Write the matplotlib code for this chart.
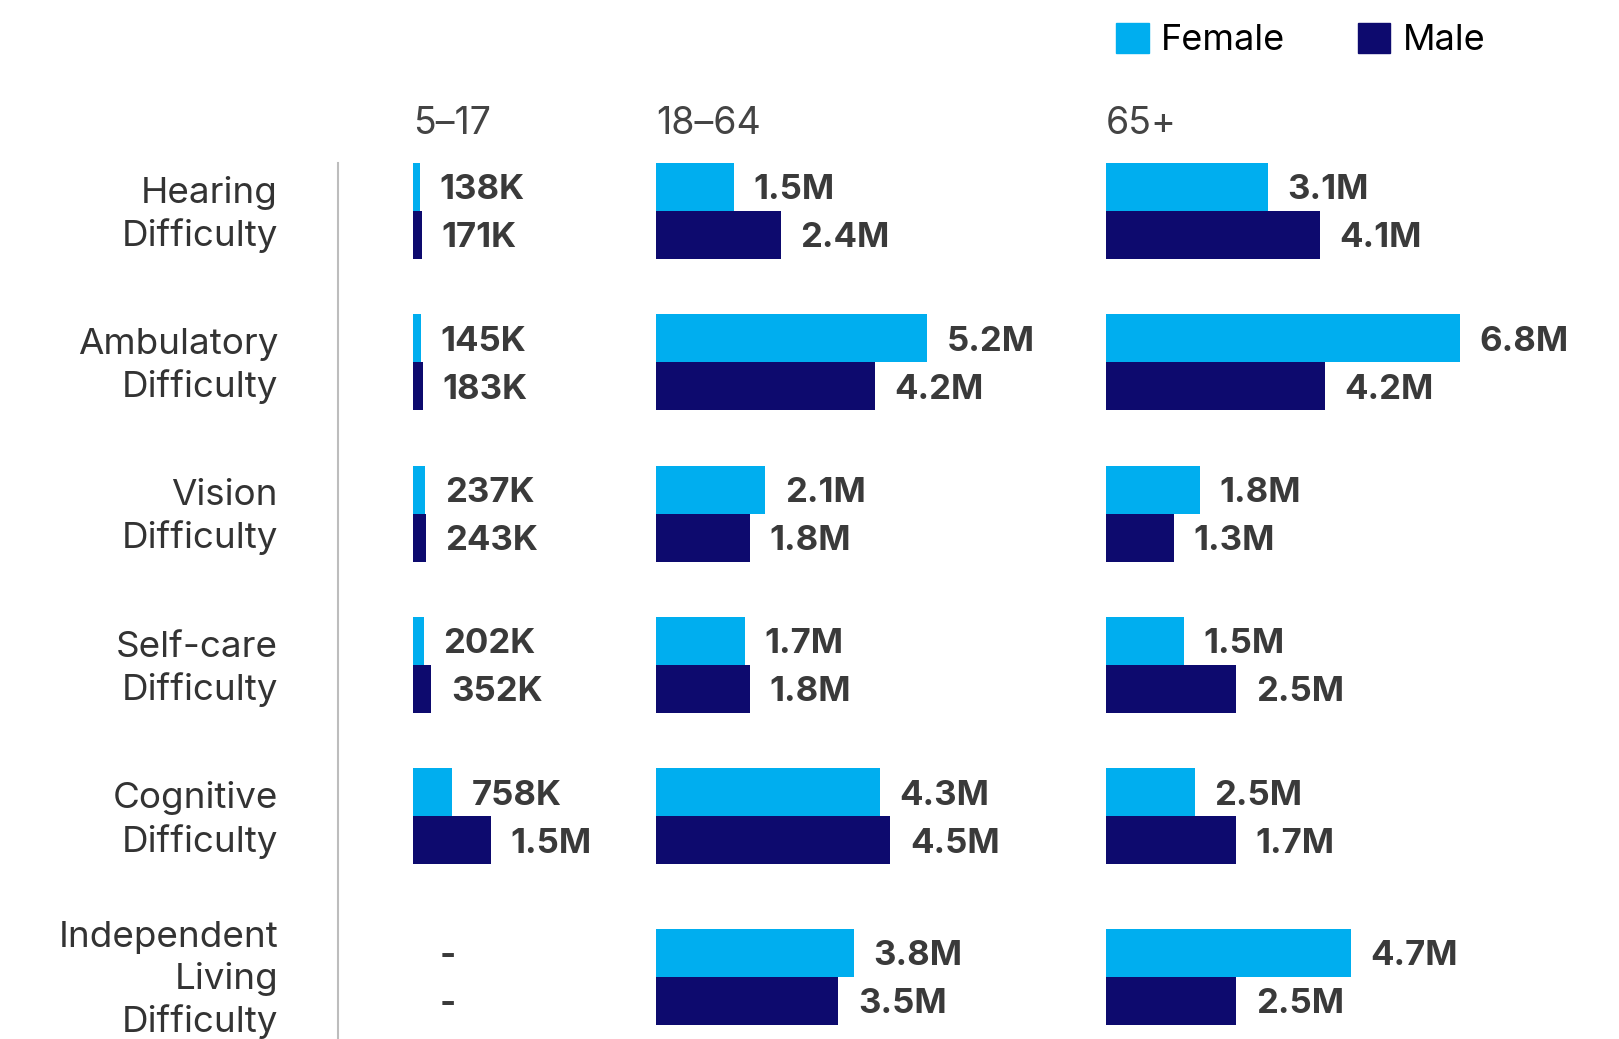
import numpy as np
import matplotlib
matplotlib.use('Agg')
from matplotlib import pyplot as plt
from matplotlib.patches import Patch
from matplotlib.lines import Line2D
import matplotlib.transforms as mtransforms

plt.rcParams['font.family'] = ['Inter', 'DejaVu Sans']

# bar values in millions (nan = no data), labels as printed on the chart
categories = ['Hearing\nDifficulty', 'Ambulatory\nDifficulty', 'Vision\nDifficulty',
              'Self-care\nDifficulty', 'Cognitive\nDifficulty', 'Independent\nLiving\nDifficulty']
age_groups = ['5–17', '18–64', '65+']

female_5_17 = [0.138, 0.145, 0.237, 0.202, 0.758, np.nan]
male_5_17 = [0.171, 0.183, 0.243, 0.352, 1.5, np.nan]
female_18_64 = [1.5, 5.2, 2.1, 1.7, 4.3, 3.8]
male_18_64 = [2.4, 4.2, 1.8, 1.8, 4.5, 3.5]
female_65 = [3.1, 6.8, 1.8, 1.5, 1.7, 4.7]
male_65 = [4.1, 4.2, 1.3, 2.5, 2.5, 2.5]

female_5_17_labels = ['138K', '145K', '237K', '202K', '758K', '-']
male_5_17_labels = ['171K', '183K', '243K', '352K', '1.5M', '-']
female_18_64_labels = ['1.5M', '5.2M', '2.1M', '1.7M', '4.3M', '3.8M']
male_18_64_labels = ['2.4M', '4.2M', '1.8M', '1.8M', '4.5M', '3.5M']
female_65_labels = ['3.1M', '6.8M', '1.8M', '1.5M', '2.5M', '4.7M']
male_65_labels = ['4.1M', '4.2M', '1.3M', '2.5M', '1.7M', '2.5M']

FEMALE = '#00AEEF'
MALE = '#0D0A6E'
TXT = '#3a3a3a'

W, H = 1619, 1039
fig = plt.figure(figsize=(W / 100, H / 100), dpi=100, facecolor='white')

px_per_m = 52.1        # same scale in all three panels
top_px = 163           # top of first bar
pitch = 151.3          # px per row
bar_h = 0.317
ax_h = (H - top_px) / H
xmax = 8.0
ypos = np.arange(len(categories)) + np.array([0, 0, 0, 0, 0, 0.06])

panels = [(413, age_groups[0], female_5_17, male_5_17, female_5_17_labels, male_5_17_labels),
          (656, age_groups[1], female_18_64, male_18_64, female_18_64_labels, male_18_64_labels),
          (1106, age_groups[2], female_65, male_65, female_65_labels, male_65_labels)]

axes = []
for x0, title, fem, mal, flab, mlab in panels:
    ax = fig.add_axes([x0 / W, 0, xmax * px_per_m / W, ax_h])
    ax.patch.set_alpha(0)
    fem = np.nan_to_num(np.array(fem))
    mal = np.nan_to_num(np.array(mal))
    ax.barh(ypos - bar_h / 2, fem, height=bar_h, color=FEMALE)
    ax.barh(ypos + bar_h / 2, mal, height=bar_h, color=MALE)
    for vals, labs, dy in [(fem, flab, -bar_h / 2), (mal, mlab, bar_h / 2)]:
        for y, v, lab in zip(ypos, vals, labs):
            off = 19 if lab == '-' else 14
            ax.annotate(lab, (v, y + dy), xytext=(off, -2.5),
                        textcoords='offset points', va='center', ha='left',
                        fontsize=25, fontweight='bold', color=TXT, annotation_clip=False)
    ylim_bottom = (H - top_px) / pitch - bar_h
    ax.set_ylim(ylim_bottom, -bar_h)
    ax.set_xlim(0, xmax)
    ax.text(0, -0.575, title, fontsize=27, color='#444444', va='center', ha='left')
    ax.axis('off')
    axes.append(ax)

# category labels
trans = mtransforms.blended_transform_factory(fig.transFigure, axes[0].transData)
for y, cat in zip(ypos, categories):
    axes[0].text(278 / W, y + 0.025, cat, transform=trans, ha='right', va='center',
                 fontsize=26.5, color='#333333', linespacing=1.3)

# separator line
fig.add_artist(Line2D([338 / W, 338 / W], [0, ax_h], color='#bdbdbd', lw=1.5))

handles = [Patch(color=FEMALE, label='Female'), Patch(color=MALE, label='Male')]
fig.legend(handles=handles, loc='center left', bbox_to_anchor=(1116 / W, 1 - 40 / H),
           ncol=2, frameon=False, fontsize=26, handlelength=0.9, handleheight=0.9,
           handletextpad=0.35, columnspacing=2.0, borderpad=0, borderaxespad=0)

plt.savefig('out.png', dpi=100, facecolor='white')
